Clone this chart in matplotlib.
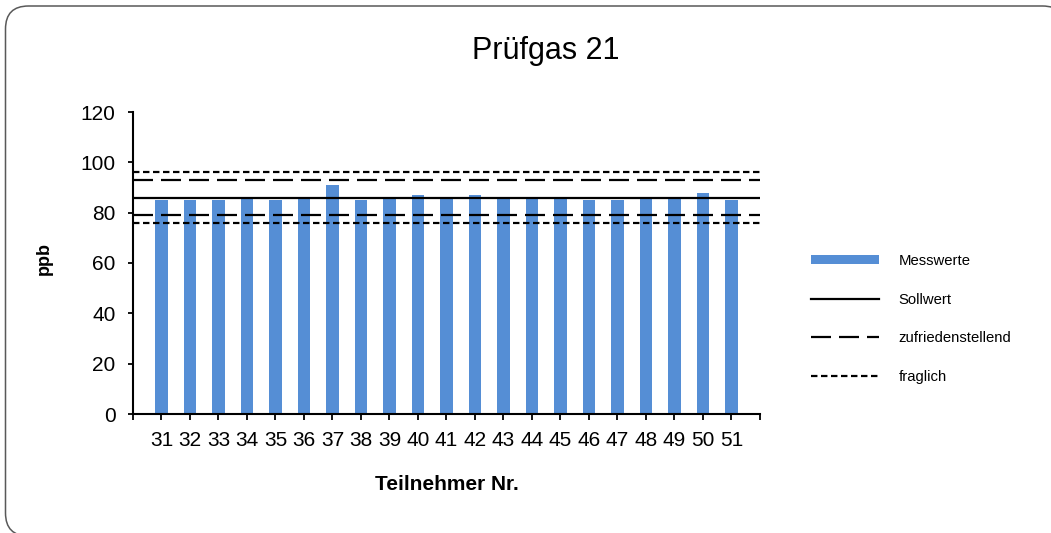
#!/usr/bin/python3

import numpy as np
import matplotlib
matplotlib.use('Agg')
from matplotlib import pyplot as plt
from matplotlib import patches as mpatches

# Participant numbers and measured values (ppb)
teilnehmer = [31, 32, 33, 34, 35, 36, 37, 38, 39, 40, 41,
              42, 43, 44, 45, 46, 47, 48, 49, 50, 51]
messwerte  = [85, 85, 85, 86, 85, 86, 91, 85, 86, 87, 86,
              87, 86, 86, 86, 85, 85, 86, 86, 88, 85]

# Reference value and tolerance limits
sollwert        = 86.0
zufrieden_grenz = [79.2, 92.8]
fraglich_grenz  = [75.8, 96.2]

y_ticks = [0, 20, 40, 60, 80, 100, 120]

W, H = 1051, 533

def main():

    plt.rcParams['font.family'] = ['Liberation Sans', 'DejaVu Sans']

    fig = plt.figure(figsize=(W/100, H/100), dpi=100)
    ax  = fig.add_axes([133/W, 1 - 414/H, 627/W, 302/H])

    # Rounded frame around the chart area (partly outside the picture);
    # filled white so Agg does not clip the outline to the canvas
    frame = mpatches.FancyBboxPatch((5.5/W, -3.0/H), 1060/W, 530/H,
                                    boxstyle='round,pad=0,rounding_size=%f' % (23/W),
                                    mutation_aspect=W/H,
                                    transform=fig.transFigure,
                                    facecolor='white', edgecolor='#595959',
                                    linewidth=1.1, clip_on=False, zorder=-5)
    fig.patches.append(frame)

    # Bars
    bars = ax.bar(teilnehmer, messwerte, width=0.45, color='#558ed5',
                  label='Messwerte', zorder=2)

    # Reference lines
    lw = 1.6
    h_soll = ax.axhline(sollwert, color='black', lw=lw, label='Sollwert', zorder=3)
    for val in zufrieden_grenz:
        h_zuf = ax.axhline(val, color='black', lw=lw, linestyle=(0, (9.0, 3.6)),
                           label='zufriedenstellend', zorder=3)
    for val in fraglich_grenz:
        h_fra = ax.axhline(val, color='black', lw=lw, linestyle=(0, (2.9, 1.6)),
                           label='fraglich', zorder=3)

    # Axes
    ax.patch.set_alpha(0)
    ax.set_xlim(teilnehmer[0] - 1, teilnehmer[-1] + 1)
    ax.set_ylim(0, 120)
    xt = list(range(teilnehmer[0] - 1, teilnehmer[-1] + 2))
    ax.set_xticks(xt)
    ax.set_xticklabels([''] + [str(t) for t in teilnehmer] + [''])
    ax.set_yticks(y_ticks)
    ax.tick_params(axis='x', direction='out', length=4.3, width=1.3,
                   labelsize=15, pad=8)
    ax.tick_params(axis='y', direction='out', length=3.6, width=1.3,
                   labelsize=15, pad=9)
    for side in ['top', 'right']:
        ax.spines[side].set_visible(False)
    for side in ['left', 'bottom']:
        ax.spines[side].set_linewidth(1.5)

    ax.set_xlabel('Teilnehmer Nr.', fontsize=15, fontweight='bold')
    ax.xaxis.set_label_coords(0.5, -0.235)
    ax.xaxis.label.set_va('center')
    ax.set_ylabel('ppb', fontsize=13, fontweight='bold')
    ax.yaxis.set_label_coords(-0.142, 0.515)
    ax.yaxis.label.set_va('center')

    fig.text(546/W, 1 - 59/H, 'Prüfgas 21', fontsize=22,
             ha='center', va='baseline')

    ax.legend([bars, h_soll, h_zuf, h_fra],
              ['Messwerte', 'Sollwert', 'zufriedenstellend', 'fraglich'],
              loc='center left', bbox_to_anchor=(811/W, 1 - 319/H),
              bbox_transform=fig.transFigure, frameon=False,
              fontsize=10.7, handlelength=4.58, handleheight=0.6,
              handletextpad=1.3, labelspacing=1.675,
              borderpad=0, borderaxespad=0)

    fig.savefig('out.png', dpi=100)
    plt.close()

if __name__ == '__main__': main()
